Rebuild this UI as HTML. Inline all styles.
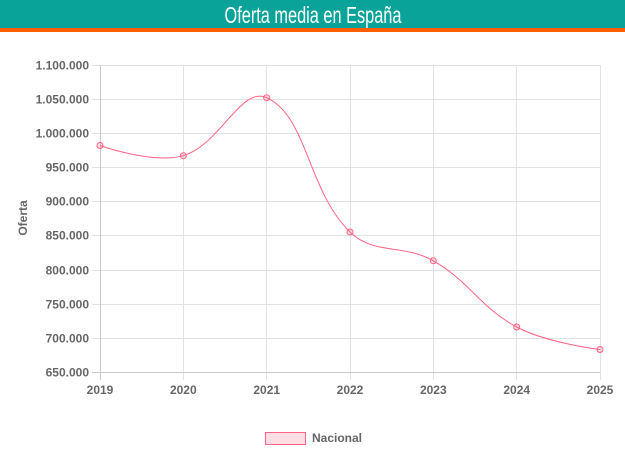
<!DOCTYPE html>
<html><head><meta charset="utf-8"><style>
body{margin:0;width:625px;height:451px;background:#fff;overflow:hidden;font-family:"Liberation Sans",sans-serif}
</style></head><body>
<svg width="625" height="451" xmlns="http://www.w3.org/2000/svg" font-family="Liberation Sans, sans-serif">
<rect x="0" y="0" width="625" height="28" fill="#0aa39a"/>
<rect x="0" y="28" width="625" height="4" fill="#ff5f00"/>
<text x="313" y="23" text-anchor="middle" fill="#fff" font-size="23" transform="translate(313,0) scale(0.71,1) translate(-313,0)">Oferta media en España</text>
<g stroke="#e2e2e2" stroke-width="1">
<line x1="92" y1="65.5" x2="600" y2="65.5"/>
<line x1="92" y1="99.5" x2="600" y2="99.5"/>
<line x1="92" y1="133.5" x2="600" y2="133.5"/>
<line x1="92" y1="167.5" x2="600" y2="167.5"/>
<line x1="92" y1="201.5" x2="600" y2="201.5"/>
<line x1="92" y1="235.5" x2="600" y2="235.5"/>
<line x1="92" y1="270.5" x2="600" y2="270.5"/>
<line x1="92" y1="304.5" x2="600" y2="304.5"/>
<line x1="92" y1="338.5" x2="600" y2="338.5"/>
<line x1="183.5" y1="65" x2="183.5" y2="380"/>
<line x1="266.5" y1="65" x2="266.5" y2="380"/>
<line x1="350.5" y1="65" x2="350.5" y2="380"/>
<line x1="433.5" y1="65" x2="433.5" y2="380"/>
<line x1="516.5" y1="65" x2="516.5" y2="380"/>
<line x1="600.5" y1="65" x2="600.5" y2="380"/>
</g>
<g stroke="#c8c8c8"><line x1="100.5" y1="65" x2="100.5" y2="380"/><line x1="92" y1="372.5" x2="600" y2="372.5"/></g>
<g fill="#666" font-size="12" font-weight="bold" text-anchor="end">
<text x="89" y="69.5">1.100.000</text>
<text x="89" y="103.5">1.050.000</text>
<text x="89" y="137.5">1.000.000</text>
<text x="89" y="171.5">950.000</text>
<text x="89" y="205.5">900.000</text>
<text x="89" y="239.5">850.000</text>
<text x="89" y="274.5">800.000</text>
<text x="89" y="308.5">750.000</text>
<text x="89" y="342.5">700.000</text>
<text x="89" y="376.5">650.000</text>
</g>
<g fill="#666" font-size="12" font-weight="bold" text-anchor="middle">
<text x="100" y="394">2019</text><text x="183.3" y="394">2020</text><text x="266.7" y="394">2021</text>
<text x="350" y="394">2022</text><text x="433.3" y="394">2023</text><text x="516.7" y="394">2024</text><text x="600" y="394">2025</text>
</g>
<text transform="translate(27,218) rotate(-90)" fill="#666" font-size="12" font-weight="bold" text-anchor="middle">Oferta</text>
<path fill="none" stroke="#ff6384" stroke-width="1" d="M100,145.5 C100,145.5 153.1,164.4 183.3,155.7 C219.8,145.2 240.7,85.8 266.7,97.7 C307.4,116.3 307.2,190.1 350,232 C373.8,255.3 403.1,243.6 433.3,260.8 C469.8,281.6 479.9,307.4 516.7,327 C546.5,342.9 600,349.5 600,349.5"/>
<g fill="rgba(255,99,132,0.2)" stroke="#ff6384" stroke-width="1">
<circle cx="100" cy="145.5" r="3"/><circle cx="183.3" cy="155.7" r="3"/><circle cx="266.7" cy="97.7" r="3"/>
<circle cx="350" cy="232" r="3"/><circle cx="433.3" cy="260.8" r="3"/><circle cx="516.7" cy="327" r="3"/><circle cx="600" cy="349.5" r="3"/>
</g>
<rect x="265.5" y="432.5" width="40" height="12" fill="#ffdfe5" stroke="#ff6384" stroke-width="1"/>
<text x="312" y="442" fill="#666" font-size="12" font-weight="bold">Nacional</text>
</svg>
</body></html>
